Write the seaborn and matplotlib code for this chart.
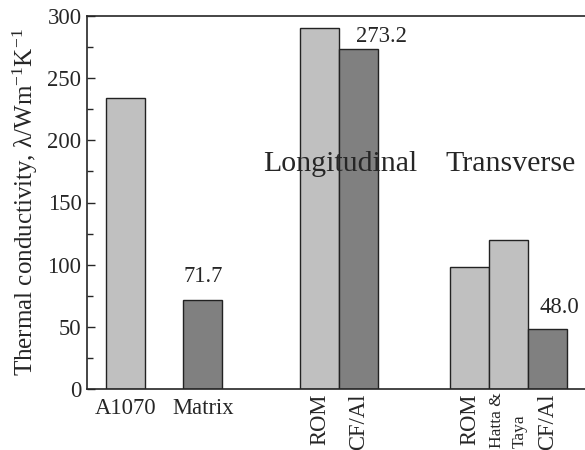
import pandas as pd
import matplotlib
matplotlib.use("Agg")
import matplotlib.pyplot as plt
import matplotlib.transforms as mtransforms
import seaborn as sns

# bar data, left to right
labels = ["A1070", "Matrix", "ROM", "CF/Al", "ROM", "Hatta &\nTaya", "CF/Al"]
values = [234.0, 71.7, 290.0, 273.2, 98.5, 119.6, 48.0]
kinds = ["ref", "exp", "ref", "exp", "ref", "ref", "exp"]
# x slot of each bar (groups are separated by gaps)
slots = [0, 2, 5, 6, 8.85, 9.85, 10.85]

groups = ["Longitudinal", "Transverse"]
group_label_x = [3.54, 8.22]

annotated = {1: "71.7", 3: "273.2", 6: "48.0"}

palette = {"ref": "#c0c0c0", "exp": "#808080"}


def make_plot():
    df = pd.DataFrame({"x": slots, "value": values, "kind": kinds})

    sns.set_style("ticks")
    plt.rcParams["font.family"] = ["Liberation Serif", "DejaVu Serif"]
    plt.rcParams["mathtext.fontset"] = "custom"
    plt.rcParams["mathtext.rm"] = "Liberation Serif"
    plt.rcParams["mathtext.it"] = "Liberation Serif:italic"

    fig = plt.figure(figsize=(5.85, 4.5), dpi=100)
    ax = fig.add_axes([87 / 585, 61 / 450, 1 - 87 / 585, 373 / 450])

    sns.barplot(data=df, x="x", y="value", hue="kind", palette=palette,
                native_scale=True, width=1.0, dodge=False, legend=False,
                edgecolor="#222222", linewidth=1.0, ax=ax)

    fs = 16.3
    ax.set_xlim(-0.98, 11.82)
    ax.set_ylim(0, 300)
    ax.set_yticks(range(0, 301, 50))
    ax.set_yticks(range(25, 300, 50), minor=True)
    ax.tick_params(axis="y", which="both", direction="in", labelsize=fs,
                   width=1.0, right=False, pad=4)
    ax.tick_params(axis="y", which="major", length=6)
    ax.tick_params(axis="y", which="minor", length=4)
    ax.set_xticks([])
    ax.set_xlabel("")
    ax.set_ylabel("Thermal conductivity, λ/Wm$^{-1}$K$^{-1}$", fontsize=18,
                  labelpad=5)
    ax.spines["right"].set_visible(False)
    for s in ["left", "bottom", "top"]:
        ax.spines[s].set_linewidth(1.2)

    # category labels under the axis
    trans = mtransforms.blended_transform_factory(ax.transData, ax.transAxes)
    for i, (xp, lab) in enumerate(zip(slots, labels)):
        if i < 2:
            ax.text(xp, -0.025, lab, transform=trans, ha="center", va="top",
                    fontsize=fs)
        elif "\n" in lab:
            ax.text(xp, -0.01, lab, transform=trans, ha="center",
                    va="top", rotation=90, fontsize=12.5, multialignment="left",
                    linespacing=1.6)
        else:
            ax.text(xp, -0.012, lab, transform=trans, ha="center", va="top",
                    rotation=90, fontsize=fs)

    # value annotations
    for i, txt in annotated.items():
        if i == 1:
            ax.text(slots[i], values[i] + 10, txt, ha="center", va="bottom",
                    fontsize=fs)
        elif i == 3:
            ax.text(slots[i] - 0.07, values[i] + 2, txt, ha="left",
                    va="bottom", fontsize=fs)
        else:
            ax.text(slots[i] - 0.19, values[i] + 9, txt, ha="left",
                    va="bottom", fontsize=fs)

    for gx, g in zip(group_label_x, groups):
        ax.text(gx, 175, g, ha="left", va="baseline", fontsize=21.5)

    fig.savefig("out.png", dpi=100)


if __name__ == "__main__":
    make_plot()
